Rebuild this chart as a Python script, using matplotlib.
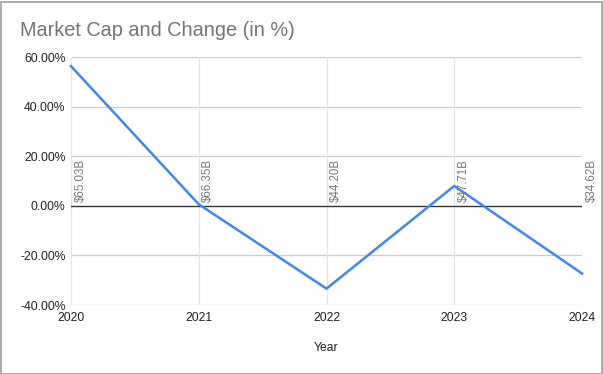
import matplotlib.pyplot as plt
from matplotlib.patches import Rectangle
from matplotlib.ticker import FuncFormatter

years = [2020, 2021, 2022, 2023, 2024]
change_pct = [56.3, 0.6, -33.4, 8.0, -27.3]
market_cap = ["$65.03B", "$66.35B", "$44.20B", "$47.71B", "$34.62B"]
y_ticks = [-40, -20, 0, 20, 40, 60]

plt.rcParams['font.family'] = ['Liberation Sans', 'DejaVu Sans']

fig = plt.figure(figsize=(6.03, 3.74), dpi=100)
ax = fig.add_axes([71 / 603, 1 - 305 / 374, 511 / 603, 248 / 374])

ax.plot(years, change_pct, color='#4285f4', lw=1.8, zorder=3, clip_on=False)

ax.set_xlim(2020, 2024)
ax.set_ylim(-40, 60)
ax.set_xticks(years)
ax.set_yticks(y_ticks)
ax.yaxis.set_major_formatter(FuncFormatter(lambda v, p: f"{v:.2f}%"))

for y in y_ticks:
    if y != 0:
        ax.axhline(y, color='#cccccc', lw=0.9, zorder=1)
for x in years:
    ax.axvline(x, color='#e5e5e5', lw=0.9, zorder=1)
ax.axhline(0, color='#333333', lw=1.0, zorder=2)

for x, lbl in zip(years, market_cap):
    ax.annotate(lbl, (x, 0), xytext=(2.5, 3), textcoords='offset points',
                rotation=90, ha='left', va='bottom', fontsize=8.3,
                color='#777777', zorder=4)

for s in ax.spines.values():
    s.set_visible(False)
ax.tick_params(length=0, labelsize=8.7, colors='#222222', pad=4)
ax.tick_params(axis='x', pad=5)
ax.set_xlabel("Year", fontsize=8.7, color='#222222', labelpad=13)

fig.text(20 / 603, 1 - 31 / 374, "Market Cap and Change (in %)", fontsize=14.3,
         color='#757575', va='center', ha='left')

fig.patches.append(Rectangle((0.5 / 603, 0.5 / 374), 601.5 / 603, 372 / 374,
                             transform=fig.transFigure, fill=False,
                             edgecolor='#9e9e9e', lw=1.2))

fig.savefig("out.png", dpi=100)
